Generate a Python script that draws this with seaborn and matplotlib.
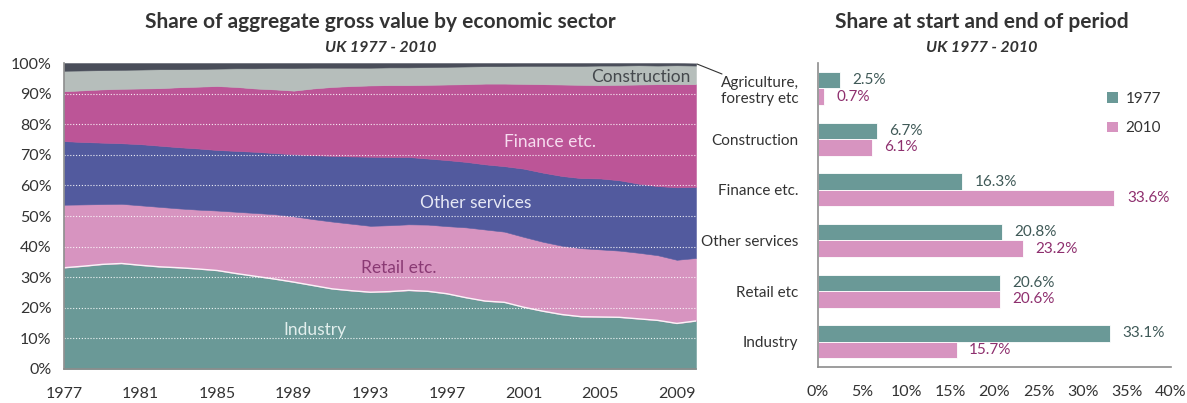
import matplotlib
matplotlib.use("Agg")
import matplotlib.pyplot as plt
import pandas as pd
import seaborn as sns
from matplotlib.lines import Line2D
from matplotlib.patches import Patch
from matplotlib.ticker import FixedLocator, MultipleLocator, FuncFormatter

# ---- data: share (%) of aggregate gross value added, by sector ----
years = list(range(1977, 2011))

industry = [33.1, 33.6, 34.2, 34.5, 33.9, 33.4, 33.1, 32.7, 32.2, 31.2,
            30.3, 29.4, 28.4, 27.3, 26.2, 25.6, 25.1, 25.3, 25.7, 25.4,
            24.6, 23.3, 22.2, 21.8, 20.2, 18.9, 17.8, 17.1, 17.0, 16.9,
            16.4, 15.9, 14.9, 15.7]
retail = [20.6, 20.2, 19.7, 19.5, 19.6, 19.6, 19.4, 19.4, 19.6, 20.2,
          20.7, 21.2, 21.5, 21.7, 22.0, 21.9, 21.7, 21.7, 21.6, 21.8,
          22.1, 23.0, 23.4, 23.1, 23.0, 22.7, 22.5, 22.4, 22.1, 21.8,
          21.6, 21.3, 20.8, 20.6]
other_services = [20.8, 20.4, 20.1, 19.8, 20.0, 20.0, 20.0, 20.0, 19.8, 19.9,
                  20.0, 20.0, 20.3, 20.9, 21.5, 22.0, 22.6, 22.3, 22.0, 21.6,
                  21.6, 21.4, 21.3, 21.4, 22.3, 22.6, 22.8, 22.9, 23.2, 23.0,
                  22.6, 22.6, 23.7, 23.2]
finance = [16.3, 16.9, 17.4, 17.8, 18.2, 18.8, 19.6, 20.2, 20.9, 20.9,
           20.7, 20.8, 20.8, 21.8, 22.5, 23.0, 23.3, 23.5, 23.5, 24.1,
           24.7, 25.4, 26.4, 27.0, 27.7, 28.9, 29.9, 30.5, 30.5, 31.2,
           32.4, 33.3, 33.7, 33.6]
construction = [6.7, 6.5, 6.3, 6.2, 6.2, 6.2, 5.9, 5.8, 5.7, 6.1,
                6.6, 7.0, 7.4, 6.8, 6.3, 6.0, 5.8, 5.8, 5.8, 5.8,
                5.8, 5.8, 5.7, 5.7, 5.9, 6.0, 6.1, 6.2, 6.4, 6.3,
                6.3, 6.1, 6.2, 6.1]
agriculture = [2.5, 2.4, 2.3, 2.2, 2.1, 2.0, 2.0, 1.9, 1.8, 1.7,
               1.7, 1.6, 1.6, 1.5, 1.5, 1.5, 1.5, 1.4, 1.4, 1.3,
               1.2, 1.1, 1.0, 1.0, 0.9, 0.9, 0.9, 0.9, 0.8, 0.8,
               0.7, 0.8, 0.7, 0.7]

bar_categories = ["Agriculture,\nforestry etc", "Construction", "Finance etc.",
                  "Other services", "Retail etc", "Industry"]
period_labels = ["1977", "2010"]

# ---- colours ----
c_industry = "#6a9997"
c_retail = "#d794c0"
c_other = "#525a9e"
c_finance = "#bc5597"
c_construction = "#b6bebb"
c_agri = "#4a4e5a"
axis_grey = "#8c8c8c"
text_dark = "#333333"

sns.set_theme(style="white")
plt.rcParams["font.family"] = ["Lato", "DejaVu Sans"]

fig = plt.figure(figsize=(11.87, 4.03), dpi=100)

# ================= left: stacked area =================
ax1 = fig.add_axes([0.0539, 0.0844, 0.5324, 0.759])
series = [industry, retail, other_services, finance, construction, agriculture]
ax1.stackplot(years, *series,
              colors=[c_industry, c_retail, c_other, c_finance, c_construction, c_agri],
              edgecolor="face", linewidth=0.4)
ax1.plot(years, industry, color="white", lw=1.0, alpha=0.9)
for g in range(10, 100, 10):
    ax1.axhline(g, color="white", lw=0.8, ls=(0, (1, 1.6)), alpha=0.9)

ax1.set_xlim(1977, 2010)
ax1.set_ylim(0, 100)
ax1.xaxis.set_major_locator(FixedLocator(list(range(1977, 2010, 4))))
ax1.xaxis.set_minor_locator(FixedLocator(list(range(1979, 2010, 4))))
ax1.yaxis.set_major_locator(MultipleLocator(10))
ax1.yaxis.set_major_formatter(FuncFormatter(lambda v, p: f"{int(v)}%"))
for s in ["top", "right"]:
    ax1.spines[s].set_visible(False)
for s in ["left", "bottom"]:
    ax1.spines[s].set_color(axis_grey)
    ax1.spines[s].set_linewidth(1.2)
ax1.tick_params(axis="x", which="major", direction="out", length=6, width=1.2,
                color=axis_grey, labelsize=11.5, labelcolor=text_dark, pad=7)
ax1.tick_params(axis="x", which="minor", direction="out", length=3, width=1.0,
                color=axis_grey)
ax1.tick_params(axis="y", direction="out", length=4, width=1.2, color=axis_grey,
                labelsize=11.5, labelcolor=text_dark, pad=5)
ax1.set_xlabel("")
ax1.set_ylabel("")

# in-area sector labels
ax1.text(2009.7, 95.6, "Construction", ha="right", va="center", fontsize=12.5, color="#45494d")
ax1.text(2002.4, 74.1, "Finance etc.", ha="center", va="center", fontsize=12.5, color="#f6dcef")
ax1.text(1998.5, 54.2, "Other services", ha="center", va="center", fontsize=12.5, color="#e6e8f5")
ax1.text(1994.5, 32.9, "Retail etc.", ha="center", va="center", fontsize=12.5, color="#8a3a74")
ax1.text(1990.1, 12.6, "Industry", ha="center", va="center", fontsize=12.5, color="#e2efed")

fig.text(0.3205, 0.945, "Share of aggregate gross value by economic sector",
         ha="center", va="center", fontsize=15, fontweight="bold", color=text_dark)
fig.text(0.3205, 0.88, "UK 1977 - 2010", ha="center", va="center", fontsize=11.5,
         fontweight="bold", fontstyle="italic", color=text_dark)

# ================= right: start vs end bars =================
ax2 = fig.add_axes([0.6891, 0.0893, 0.2974, 0.754])
start_shares = [s[0] for s in [agriculture, construction, finance, other_services, retail, industry]]
end_shares = [s[-1] for s in [agriculture, construction, finance, other_services, retail, industry]]
df = pd.DataFrame({
    "sector": bar_categories * 2,
    "period": [period_labels[0]] * 6 + [period_labels[1]] * 6,
    "share": start_shares + end_shares,
})
sns.barplot(data=df, x="share", y="sector", hue="period", orient="h",
            palette=[c_industry, c_retail], width=0.65, edgecolor="white",
            linewidth=0.6, ax=ax2, legend=False, saturation=1)

label_colors = ["#3f5957", "#8e2f6e"]
for cont, lc in zip(ax2.containers, label_colors):
    ax2.bar_label(cont, labels=[f"{b.get_width():.1f}%" for b in cont],
                  padding=9, color=lc, fontsize=11)

ax2.set_xlim(0, 40)
ax2.xaxis.set_major_locator(MultipleLocator(5))
ax2.xaxis.set_major_formatter(FuncFormatter(lambda v, p: f"{int(v)}%"))
for s in ["top", "right"]:
    ax2.spines[s].set_visible(False)
for s in ["left", "bottom"]:
    ax2.spines[s].set_color(axis_grey)
    ax2.spines[s].set_linewidth(1.2)
ax2.tick_params(axis="x", direction="out", length=5, width=1.2, color=axis_grey,
                labelsize=11.5, labelcolor=text_dark, pad=8)
ax2.tick_params(axis="y", length=0, labelsize=11, labelcolor=text_dark, pad=14)
ax2.set_xlabel("")
ax2.set_ylabel("")

handles = [Patch(facecolor=c_industry, edgecolor="none"),
           Patch(facecolor=c_retail, edgecolor="none")]
ax2.legend(handles, period_labels, loc="upper left", bbox_to_anchor=(0.78, 0.95),
           frameon=False, handlelength=0.7, handleheight=0.7, handletextpad=0.5,
           labelspacing=1.0, fontsize=11, labelcolor=text_dark)

fig.text(0.827, 0.945, "Share at start and end of period",
         ha="center", va="center", fontsize=15, fontweight="bold", color=text_dark)
fig.text(0.827, 0.88, "UK 1977 - 2010", ha="center", va="center", fontsize=11.5,
         fontweight="bold", fontstyle="italic", color=text_dark)

# leader from the agriculture label to the thin top band of the area chart
fig.add_artist(Line2D([697 / 1187, 722 / 1187], [1 - 64 / 403, 1 - 74 / 403],
                      color=text_dark, lw=0.8))

fig.savefig("out.png", dpi=100)
